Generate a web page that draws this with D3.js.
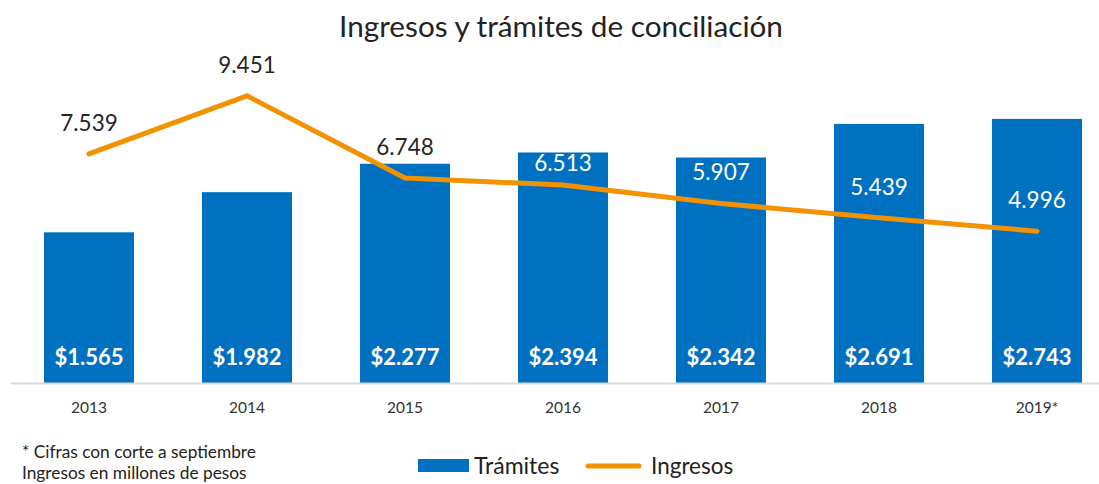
<!DOCTYPE html>
<html><head><meta charset="utf-8">
<script src="https://cdn.jsdelivr.net/npm/d3@7"></script>
<style>body{margin:0;background:#fff}svg{display:block}text{font-family:Lato,"Open Sans",sans-serif}</style>
</head><body>
<svg id="c" width="1099" height="484"></svg>
<script>
const years = ["2013","2014","2015","2016","2017","2018","2019*"];
const tramites = [1565,1982,2277,2394,2342,2691,2743];
const ingresos = [7539,9451,6748,6513,5907,5439,4996];
const title = "Ingresos y trámites de conciliación";
const notes = ["* Cifras con corte a septiembre","Ingresos en millones de pesos"];
const legendLabels = ["Trámites","Ingresos"];

(function(){
const svg = d3.select("#c");
const base = 383, plotTop = 46;
const blue = "#0070C0", orange = "#F39200";
const fmt = v => d3.format(",")(v).replace(/,/g, ".");

const x = d3.scaleBand().domain(years).range([10, 1116]).paddingInner(0.43).paddingOuter(0.215);
const yBar = d3.scaleLinear().domain([0, 3500]).range([base, plotTop]);
const yLine = d3.scaleLinear().domain([0, 11090]).range([base, plotTop]);

svg.append("text").attr("x", 561).attr("y", 37).attr("text-anchor", "middle")
  .attr("font-size", 29.7).attr("fill", "#222").text(title);

// bars
svg.append("g").selectAll("rect").data(years).join("rect")
  .attr("x", d => x(d)).attr("width", x.bandwidth())
  .attr("y", (d,i) => yBar(tramites[i])).attr("height", (d,i) => base - yBar(tramites[i]))
  .attr("fill", blue);

// axis
const ax = svg.append("g").attr("transform", `translate(0,${base})`)
  .call(d3.axisBottom(x).tickSize(0).tickPadding(19));
ax.select(".domain").attr("stroke", "#d9d9d9").attr("stroke-width", 2);
ax.selectAll("text").attr("font-size", 15.5).attr("fill", "#333").style("font-family", "Lato,sans-serif");

// bar labels
svg.append("g").selectAll("text").data(years).join("text")
  .attr("x", d => x(d) + x.bandwidth()/2).attr("y", 365)
  .attr("text-anchor", "middle").attr("font-size", 22).attr("font-weight", "bold")
  .attr("fill", "#fff").text((d,i) => "$" + fmt(tramites[i]));

// line
const line = d3.line().x((d,i) => x(years[i]) + x.bandwidth()/2).y(d => yLine(d));
svg.append("path").datum(ingresos).attr("d", line).attr("fill", "none")
  .attr("stroke", orange).attr("stroke-width", 5).attr("stroke-linecap", "round").attr("stroke-linejoin", "round");

// line labels
svg.append("g").selectAll("text").data(ingresos).join("text")
  .each(function(d, i) {
    let ly = yLine(d) - 31;
    const bt = yBar(tramites[i]);
    const inside = ly > bt - 10;
    if (inside) ly = Math.max(ly, bt + 11);
    d3.select(this).attr("x", x(years[i]) + x.bandwidth()/2).attr("y", ly)
      .attr("dy", "0.35em").attr("text-anchor", "middle").attr("font-size", 22.5)
      .attr("fill", inside ? "#fff" : "#262626").text(fmt(d));
  });

// notes
svg.append("g").selectAll("text").data(notes).join("text")
  .attr("x", 22).attr("y", (d,i) => 458 + i*21).attr("font-size", 17.3).attr("fill", "#222").text(d => d);

// legend
svg.append("rect").attr("x", 418).attr("y", 459).attr("width", 51).attr("height", 13).attr("fill", blue);
svg.append("text").attr("x", 474).attr("y", 474).attr("font-size", 23).attr("fill", "#222").text(legendLabels[0]);
svg.append("line").attr("x1", 588).attr("x2", 639).attr("y1", 466).attr("y2", 466)
  .attr("stroke", orange).attr("stroke-width", 5).attr("stroke-linecap", "round");
svg.append("text").attr("x", 651).attr("y", 474).attr("font-size", 22.5).attr("fill", "#222").text(legendLabels[1]);
})();
</script>
</body></html>
